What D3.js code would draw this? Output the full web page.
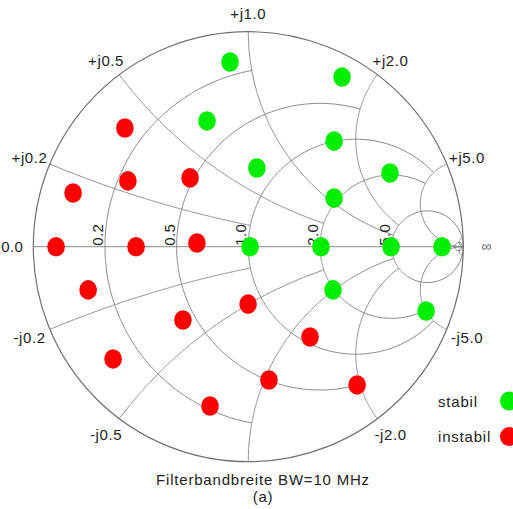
<!DOCTYPE html>
<html>
<head>
<meta charset="utf-8">
<script src="https://cdn.jsdelivr.net/npm/d3@7"></script>
<style>
  body { margin: 0; background: #fff; }
  text { font-family: "Liberation Sans", Arial, sans-serif; fill: #222; }
</style>
</head>
<body>
<div id="chart"></div>
<script>
/* Smith chart: stabil / instabil load points */

// grid values (normalized resistance / reactance) and how far each line runs
const rValues = [0.2, 0.5, 1, 2, 5, 50];
const rLimits = [1, 2, 5, 5, Infinity, Infinity];
const xValues = [0.2, 0.5, 1, 2, 5, 50];
const xLimits = [1, 2, 5, 5, Infinity, Infinity];

// labelled values
const rTicks = [0.2, 0.5, 1, 2, 5];
const xTicks = [0.2, 0.5, 1, 2, 5];

// points as reflection coefficient [re, im]
const stabil = [
    [-0.085, 0.859], [0.436, 0.789], [-0.192, 0.585], [0.399, 0.491],
    [0.040, 0.366], [0.659, 0.343], [0.399, 0.226], [0.008, 0.0],
    [0.338, 0.0], [0.664, 0.0], [0.901, 0.0], [0.394, -0.201],
    [0.827, -0.299]
];
const instabil = [
    [-0.574, 0.552], [-0.815, 0.250], [-0.560, 0.306], [-0.271, 0.320],
    [-0.894, 0.0], [-0.522, 0.0], [-0.239, 0.017], [-0.745, -0.201],
    [-0.304, -0.341], [-0.001, -0.267], [-0.629, -0.522], [0.287, -0.420],
    [0.096, -0.620], [0.506, -0.643], [-0.178, -0.741]
];

const legendNames = ["stabil", "instabil"];
const colors = ["#00ee00", "#ff0000"];
const title = ["Filterbandbreite BW=10 MHz", "(a)"];

const width = 513,
    height = 509,
    cx = 248.3, cy = 246.7, R = 215;

const svg = d3.select("#chart")
    .append("svg")
    .attr("width", width)
    .attr("height", height);

const x = d3.scaleLinear().domain([-1, 1]).range([cx - R, cx + R]);
const y = d3.scaleLinear().domain([-1, 1]).range([cy + R, cy - R]);

// impedance -> reflection coefficient
function gamma(r, xx) {
    const d = (r + 1) * (r + 1) + xx * xx;
    return [(r * r + xx * xx - 1) / d, 2 * xx / d];
}

const line = d3.line().x(d => x(d[0])).y(d => y(d[1]));
const n = 240;

const grid = svg.append("g")
    .attr("fill", "none")
    .attr("stroke", "#8a8a8a")
    .attr("stroke-width", 1);

// constant resistance circles
rValues.forEach((r, i) => {
    const sm = Math.atan(rLimits[i]);
    const pts = d3.range(n + 1).map(k => {
        const xx = Math.tan(-sm + 2 * sm * k / n);
        return gamma(r, xx);
    });
    grid.append("path").attr("d", line(pts));
});

// constant reactance arcs
xValues.forEach((xv, i) => {
    const sm = Math.atan(xLimits[i]);
    [1, -1].forEach(s => {
        const pts = d3.range(n + 1).map(k => gamma(Math.tan(sm * k / n), s * xv));
        grid.append("path").attr("d", line(pts));
    });
});

// real axis
grid.append("line")
    .attr("x1", x(-1)).attr("x2", x(1))
    .attr("y1", y(0)).attr("y2", y(0));

// outer circle
grid.append("circle")
    .attr("cx", x(0)).attr("cy", y(0))
    .attr("r", x(1) - x(0))
    .attr("stroke", "#707070")
    .attr("stroke-width", 1.2);

const fmt = d3.format(".1f");

// resistance labels along the axis
svg.append("g").selectAll("text")
    .data(rTicks)
    .join("text")
    .attr("transform", d => `translate(${x(gamma(d, 0)[0]) - 2},${y(0) - 1}) rotate(-90)`)
    .attr("font-size", 15)
    .attr("letter-spacing", 0.4)
    .text(d => fmt(d));

svg.append("text")
    .attr("x", x(-1) - 10)
    .attr("y", y(0) + 5)
    .attr("text-anchor", "end")
    .attr("font-size", 15)
    .attr("letter-spacing", 0.4)
    .text("0.0");

svg.append("text")
    .attr("x", x(1) + 23)
    .attr("y", y(0) + 4)
    .attr("text-anchor", "middle")
    .attr("font-size", 14)
    .style("fill", "#666")
    .text("∞");

// reactance labels around the rim
const rimLabels = [];
xTicks.forEach(v => {
    rimLabels.push({ v: v, s: 1, t: "+j" + fmt(v) });
    rimLabels.push({ v: v, s: -1, t: "-j" + fmt(v) });
});
const rimLabelsShown = rimLabels.filter(d => !(d.s < 0 && d.v === 1));

svg.append("g").selectAll("text")
    .data(rimLabelsShown)
    .join("text")
    .attr("x", d => {
        const g = gamma(0, d.s * d.v);
        return x(0) + g[0] * (R + 22);
    })
    .attr("y", d => {
        const g = gamma(0, d.s * d.v);
        return y(0) - g[1] * (R + 19) + 6;
    })
    .attr("text-anchor", "middle")
    .attr("font-size", 15)
    .attr("letter-spacing", 0.6)
    .text(d => d.t);

// points
const groups = [stabil, instabil];
groups.forEach((pts, i) => {
    svg.append("g").selectAll("ellipse")
        .data(pts)
        .join("ellipse")
        .attr("cx", d => x(d[0]))
        .attr("cy", d => y(d[1]))
        .attr("rx", 8.8)
        .attr("ry", 9.8)
        .attr("fill", colors[i]);
});

// legend
const legend = svg.append("g").selectAll("g")
    .data(legendNames)
    .join("g")
    .attr("transform", (d, i) => `translate(0,${401 + i * 35.5})`);

legend.append("text")
    .attr("x", 438)
    .attr("y", 5.5)
    .attr("font-size", 15)
    .attr("letter-spacing", 0.8)
    .text(d => d);

legend.append("ellipse")
    .attr("cx", 509)
    .attr("cy", 0)
    .attr("rx", 9)
    .attr("ry", 9.5)
    .attr("fill", (d, i) => colors[i]);

// caption
svg.append("g").selectAll("text")
    .data(title)
    .join("text")
    .attr("x", 263)
    .attr("y", (d, i) => 485 + i * 17)
    .attr("text-anchor", "middle")
    .attr("font-size", 15)
    .attr("letter-spacing", 0.8)
    .text(d => d);
</script>
</body>
</html>
